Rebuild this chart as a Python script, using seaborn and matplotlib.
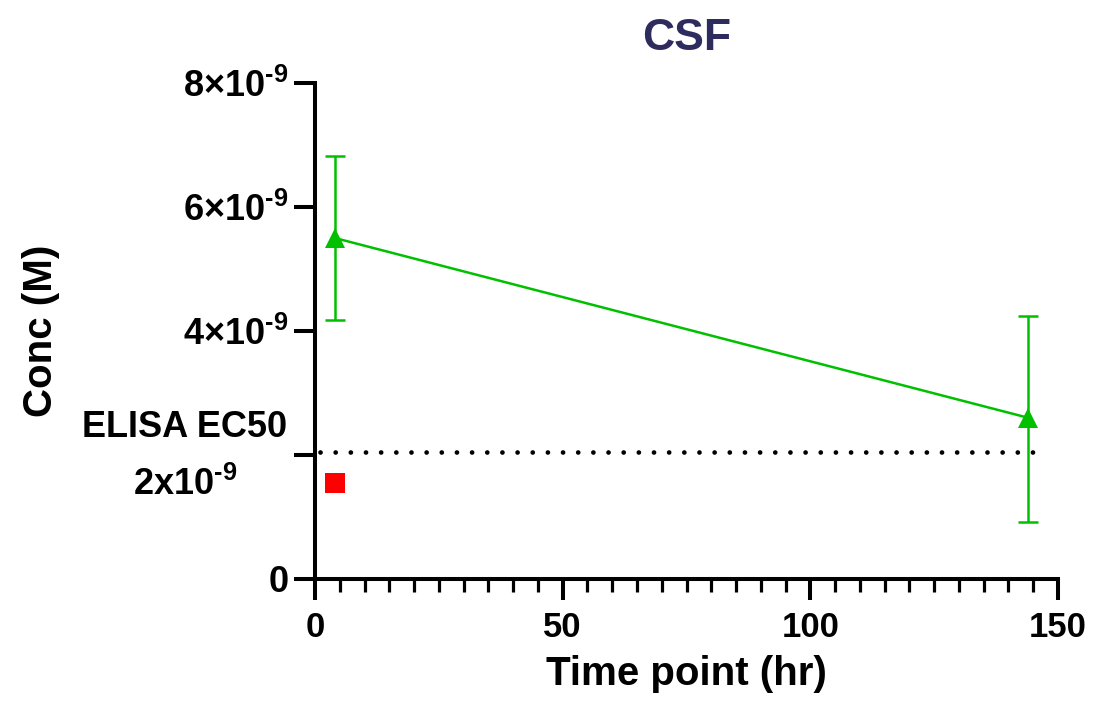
import matplotlib
matplotlib.use("Agg")
import matplotlib.pyplot as plt
import seaborn as sns
import numpy as np
import pandas as pd
from matplotlib.ticker import MultipleLocator

# ---- data ----
time_hr = [4, 144]
conc_mean = [5.50e-9, 2.60e-9]
conc_upper = [6.83e-9, 4.25e-9]
conc_lower = [4.17e-9, 0.92e-9]
ec50_level = 2.05e-9
ec50_span = [1, 147]
ref_x = [4]
ref_y = [1.55e-9]
y_ticks = [0, 2e-9, 4e-9, 6e-9, 8e-9]
y_ticklabels = ["0", "", "4×10$^{\\text{-}9}$", "6×10$^{\\text{-}9}$", "8×10$^{\\text{-}9}$"]
ec50_label = "ELISA EC50\n2x10$^{\\text{-}9}$"
x_ticks = [0, 50, 100, 150]

sns.set_style("ticks")
plt.rcParams["font.family"] = ["Liberation Sans", "DejaVu Sans"]
plt.rcParams["font.weight"] = "bold"
plt.rcParams["text.color"] = "black"
plt.rcParams["axes.labelcolor"] = "black"
plt.rcParams["xtick.color"] = "black"
plt.rcParams["ytick.color"] = "black"
plt.rcParams["mathtext.fontset"] = "custom"
plt.rcParams["mathtext.rm"] = "Liberation Sans:bold"
plt.rcParams["mathtext.it"] = "Liberation Sans:bold"
plt.rcParams["mathtext.bf"] = "Liberation Sans:bold"
plt.rcParams["mathtext.sf"] = "Liberation Sans:bold"

fig = plt.figure(figsize=(10.94, 7.06), dpi=100)
ax = fig.add_axes([315/1094, 1-579/706, (1058-315)/1094, (579-83)/706])

green = "#00C000"
df = pd.DataFrame({"t": time_hr, "c": conc_mean})
ax.errorbar(time_hr, conc_mean,
            yerr=[np.array(conc_mean)-np.array(conc_lower), np.array(conc_upper)-np.array(conc_mean)],
            fmt="none", ecolor=green, elinewidth=1.8, capsize=7, capthick=1.8, zorder=3)
sns.lineplot(data=df, x="t", y="c", color=green, linewidth=1.8, marker="^",
             markersize=14, markeredgewidth=0, ax=ax, zorder=4)
ax.plot(ec50_span, [ec50_level, ec50_level], color="black", linewidth=3.4,
        linestyle=(0, (0.01, 3.2)), dash_capstyle="round", zorder=2)
sns.scatterplot(x=ref_x, y=ref_y, marker="s", s=14**2, color="#FF0000",
                edgecolor="none", ax=ax, zorder=5)

ax.set_xlim(0, 150)
ax.set_ylim(0, 8e-9)
ax.set_xticks(x_ticks)
ax.set_xticklabels([str(v) for v in x_ticks])
ax.xaxis.set_minor_locator(MultipleLocator(5))
ax.set_yticks(y_ticks)
ax.set_yticklabels(y_ticklabels)

ax.annotate(ec50_label, xy=(0, y_ticks[1]), xycoords=ax.get_yaxis_transform(),
            xytext=(-20, -1), textcoords="offset points", ha="right", va="center",
            multialignment="center", linespacing=1.75, fontsize=26, fontweight="bold",
            annotation_clip=False)

for s in ["top", "right"]:
    ax.spines[s].set_visible(False)
for s in ["left", "bottom"]:
    ax.spines[s].set_linewidth(2.9)
    ax.spines[s].set_color("black")

ax.tick_params(axis="both", which="major", length=15, width=2.9, color="black")
ax.tick_params(axis="x", which="minor", length=9, width=2.3, color="black")
ax.tick_params(axis="y", labelsize=26, pad=4)
ax.tick_params(axis="x", labelsize=25, pad=8)

ax.set_xlabel("Time point (hr)", fontsize=29, fontweight="bold", labelpad=8)
ax.set_ylabel("Conc (M)", fontsize=29, fontweight="bold")
ax.yaxis.set_label_coords(-0.343, 0.5)
ax.set_title("CSF", fontsize=32, fontweight="bold", color="#2E2B5F", pad=24)
ax.grid(False)

fig.savefig("out.png", dpi=100)
